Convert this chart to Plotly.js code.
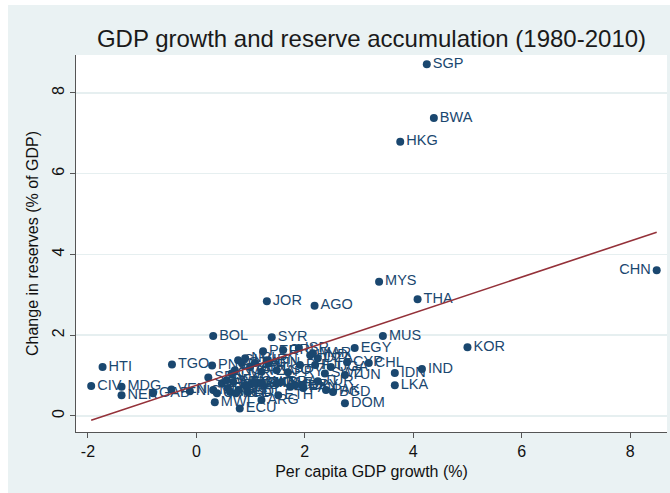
<!DOCTYPE html>
<html><head><meta charset="utf-8">
<script src="https://cdn.plot.ly/plotly-3.0.1.min.js"></script>
<style>
html,body{margin:0;padding:0;background:#ffffff;}
#chart{position:absolute;left:8px;top:5px;width:662px;height:488px;}
</style>
</head><body><div id="chart"></div>
<script>
// Country codes, per capita GDP growth (%) and change in reserves (% of GDP)
const countries = [
 "SGP","BWA","HKG","CHN","MYS","THA","JOR","AGO","MUS","KOR",
 "BOL","SYR","EGY","HTI","TGO","CIV","MDG","NER","GAB","VEN",
 "NIC","PNG","SEN","MWI","ECU","ARG","ETH","DOM","LKA","IDN",
 "IND","CHL","CYP","UGA","TUN","TUR","BGD","PAK","PAN","PRY",
 "ISR","PER","CRI","DZA","HND","MAR","PHL","GHA","BRA","MEX",
 "COL","URY","SLV","GTM","NPL","KEN","ZAF","NGA","CMR","ZWE",
 "MLI","IRN","TZA","JAM","TTO","SLE","RWA","BEN","BFA","GIN",
 "LSO","FJI","SWZ","BDI","MRT","GMB","TCD","GNQ","GNB","CAF"
];
const growth = [
 4.25, 4.38, 3.76, 8.49, 3.37, 4.08, 1.30, 2.18, 3.44, 5.00,
 0.31, 1.39, 2.92,-1.73,-0.45,-1.94,-1.38,-1.38,-0.80,-0.46,
 -0.12, 0.29, 0.22, 0.34, 0.80, 1.20, 1.51, 2.74, 3.66, 3.66,
 4.16, 3.18, 2.78, 2.48, 2.74, 2.24, 2.52, 2.39, 1.97, 1.69,
 1.89, 1.23, 1.60, 2.24, 2.10, 2.15, 1.91, 1.14, 1.57, 1.73,
 1.82, 1.95, 0.77, 0.84, 0.90, 0.99, 1.08, 0.71, 0.65, 0.47,
 0.31, 1.30, 1.20, 1.02, 0.90, 0.78, 0.58, 0.68, 0.56, 1.33,
 1.48, 2.19, 2.37, 0.95, 0.62, 0.38, 0.73, 1.08, 1.20, 1.48
];
const reserves = [
 8.71, 7.38, 6.79, 3.61, 3.32, 2.89, 2.84, 2.73, 1.98, 1.70,
 1.98, 1.95, 1.68, 1.21, 1.27, 0.74, 0.72, 0.51, 0.56, 0.65,
 0.61, 1.25, 0.95, 0.34, 0.18, 0.39, 0.51, 0.31, 0.76, 1.06,
 1.16, 1.31, 1.33, 1.21, 1.01, 0.86, 0.59, 0.64, 0.69, 1.08,
 1.68, 1.60, 1.63, 1.43, 1.50, 1.55, 1.26, 0.81, 0.84, 0.72,
 0.76, 0.76, 1.38, 1.31, 1.43, 1.21, 1.31, 1.13, 1.05, 0.80,
 0.64, 1.38, 1.09, 0.80, 0.76, 0.64, 0.69, 0.84, 0.88, 1.30,
 1.13, 1.26, 1.05, 0.59, 0.59, 0.56, 0.56, 0.84, 0.80, 0.80
];
// Fitted line endpoints
const fitX = [-1.94, 8.49];
const fitY = [-0.11, 4.55];
const xTicks = [-2, 0, 2, 4, 6, 8];
const yTicks = [0, 2, 4, 6, 8];

const navy = "#1a476f";
const textPos = countries.map(c => c === "CHN" ? "middle left" : "middle right");

const traces = [
 {
  type: "scatter", mode: "markers+text",
  x: growth, y: reserves, text: countries,
  textposition: textPos,
  textfont: {family: "Liberation Sans, Arial, sans-serif", size: 14.5, color: navy},
  marker: {color: navy, size: 8},
  cliponaxis: false,
  hoverinfo: "text"
 },
 {
  type: "scatter", mode: "lines",
  x: fitX, y: fitY,
  line: {color: "#943139", width: 1.6},
  hoverinfo: "skip"
 }
];

const layout = {
 width: 662, height: 488,
 paper_bgcolor: "#eaf2f3",
 plot_bgcolor: "#ffffff",
 showlegend: false,
 margin: {l: 68, r: 3, t: 50, b: 61},
 font: {family: "Liberation Sans, Arial, sans-serif", color: "#111111"},
 title: {
  text: "GDP growth and reserve accumulation (1980-2010)",
  font: {size: 24, color: "#1a1a1a"},
  x: 0.5, xref: "paper", y: 0.932, yref: "container", yanchor: "middle"
 },
 xaxis: {
  range: [-2.22, 8.68], tickvals: xTicks, ticktext: xTicks.map(String),
  ticks: "outside", ticklen: 5, tickcolor: "#555", tickwidth: 1,
  showline: true, linecolor: "#555", linewidth: 1,
  showgrid: false, zeroline: false,
  tickfont: {size: 16, color: "#111111"},
  title: {text: "Per capita GDP growth (%)", font: {size: 16, color: "#111111"}, standoff: 6}
 },
 yaxis: {
  range: [-0.40, 8.94], tickvals: yTicks, ticktext: yTicks.map(String),
  ticks: "outside", ticklen: 5, tickcolor: "#555", tickwidth: 1,
  showline: true, linecolor: "#555", linewidth: 1,
  showgrid: true, gridcolor: "#e6eff0", gridwidth: 1.5, zeroline: false,
  tickangle: -90,
  tickfont: {size: 16, color: "#111111"},
  title: {text: "Change in reserves (% of GDP)", font: {size: 16, color: "#111111"}, standoff: 6}
 }
};

Plotly.newPlot("chart", traces, layout, {displayModeBar: false, staticPlot: true});
</script>
</body></html>
